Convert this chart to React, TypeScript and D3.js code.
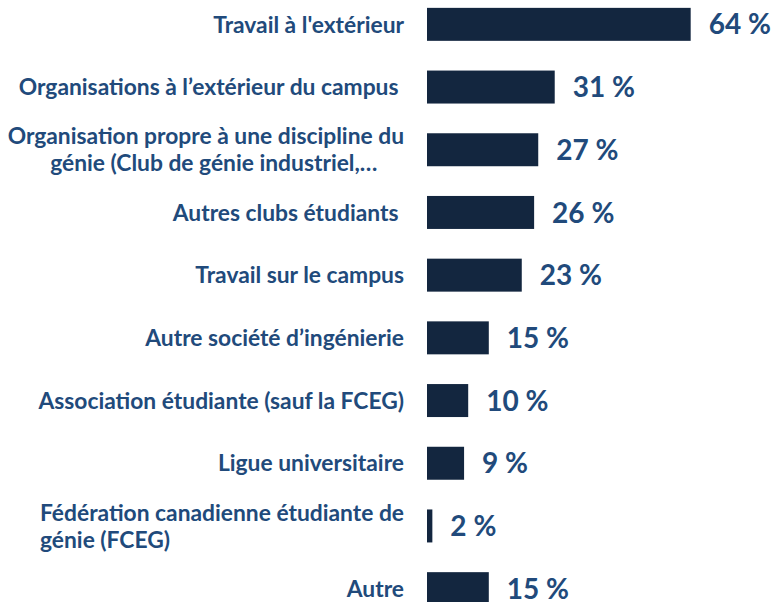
import React, { useRef, useEffect } from "react";
import { scaleLinear, scaleBand, select } from "d3";

const categories = [
  ["Travail à l'extérieur"],
  ["Organisations à l’extérieur du campus "],
  ["Organisation propre à une discipline du", "génie (Club de génie industriel,…"],
  ["Autres clubs étudiants "],
  ["Travail sur le campus"],
  ["Autre société d’ingénierie"],
  ["Association étudiante (sauf la FCEG)"],
  ["Ligue universitaire"],
  ["Fédération canadienne étudiante de", "génie (FCEG)"],
  ["Autre"],
];
const values = [64, 31, 27, 26, 23, 15, 10, 9, 1.3, 15];
const valueLabels = ["64 %", "31 %", "27 %", "26 %", "23 %", "15 %", "10 %", "9 %", "2 %", "15 %"];
// how the second line of a wrapped label sits under the first
const secondLineAlign = ["", "", "center", "", "", "", "", "", "start", ""];

const barColor = "#13263f";
const textColor = "#214a7b";
const font = "Lato, 'Open Sans', sans-serif";

export default function App() {
  const svgRef = useRef(null);
  const width = 775;
  const height = 602;

  useEffect(() => {
    const x = scaleLinear().domain([0, 100]).range([427, 427 + 412]);
    const y = scaleBand()
      .domain(categories.map((d, i) => String(i)))
      .range([-7, 620])
      .paddingInner(0.474)
      .paddingOuter(0.237);

    const svg = select(svgRef.current);
    svg.selectAll("*").remove();

    const rows = svg
      .selectAll("g.row")
      .data(values)
      .join("g")
      .attr("class", "row");

    rows
      .append("rect")
      .attr("x", x(0))
      .attr("y", (d, i) => y(String(i)))
      .attr("width", (d) => x(d) - x(0))
      .attr("height", y.bandwidth())
      .attr("fill", barColor);

    rows
      .append("text")
      .attr("x", (d) => x(d) + 18)
      .attr("y", (d, i) => y(String(i)) + y.bandwidth() / 2)
      .attr("dy", "0.36em")
      .attr("font-family", font)
      .attr("font-weight", 700)
      .attr("font-size", 28)
      .attr("fill", textColor)
      .text((d, i) => valueLabels[i]);

    const lineH = 27;
    const labelSize = 22.8;
    rows.each(function (d, i) {
      const lines = categories[i];
      const cy = y(String(i)) + y.bandwidth() / 2;
      const top = cy - ((lines.length - 1) * lineH) / 2;
      const first = select(this)
        .append("text")
        .attr("x", 404)
        .attr("y", top)
        .attr("dy", "0.36em")
        .attr("text-anchor", "end")
        .attr("font-family", font)
        .attr("font-weight", 700)
        .attr("font-size", labelSize)
        .attr("fill", textColor)
        .style("white-space", "pre")
        .text(lines[0]);
      if (lines.length > 1) {
        const w1 = first.node().getComputedTextLength();
        const start = 404 - w1;
        const second = select(this)
          .append("text")
          .attr("y", top + lineH)
          .attr("dy", "0.36em")
          .attr("font-family", font)
          .attr("font-weight", 700)
          .attr("font-size", labelSize)
          .attr("fill", textColor)
          .style("white-space", "pre")
          .text(lines[1]);
        if (secondLineAlign[i] === "center") {
          second.attr("x", start + w1 / 2 + 8).attr("text-anchor", "middle");
        } else {
          second.attr("x", start).attr("text-anchor", "start");
        }
      }
    });
  }, []);

  return (
    <svg
      ref={svgRef}
      width={width}
      height={height}
      style={{ position: "absolute", left: 0, top: 0, background: "#fff" }}
    />
  );
}
